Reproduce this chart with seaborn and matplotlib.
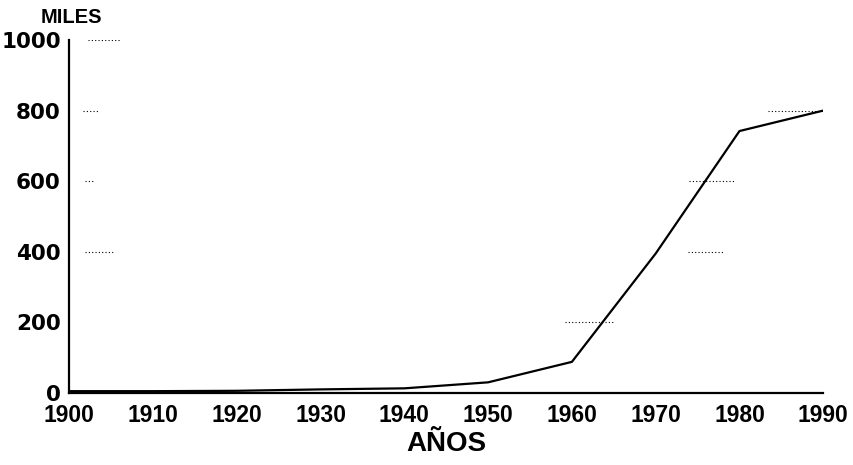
"""
Crecimiento en miles, 1900-1990 (recreated line chart).
"""

import matplotlib
matplotlib.use('Agg')
import matplotlib.pyplot as plt
import pandas as pd
import seaborn as sns

years = [1900, 1910, 1920, 1930, 1940, 1950, 1960, 1970, 1980, 1990]
values = [5, 5, 6, 10, 13, 30, 88, 395, 742, 800]

# short dotted guide marks seen in the original (level, from year, to year)
guide_levels = [1000, 800, 600, 400, 200, 400, 600, 800]
guide_start = [1902.3, 1901.6, 1901.9, 1901.9, 1959.2, 1973.9, 1974.0, 1983.4]
guide_end = [1906.1, 1903.6, 1902.8, 1905.5, 1965.0, 1978.0, 1979.5, 1990.0]

x_ticks = list(range(1900, 1991, 10))
y_ticks = [0, 200, 400, 600, 800, 1000]

df = pd.DataFrame({'year': years, 'miles': values})

sns.set_style('white')
plt.rcParams['font.family'] = ['Liberation Sans', 'DejaVu Sans']

fig = plt.figure(figsize=(8.54, 4.65), dpi=100)
ax = fig.add_axes([0.081, 0.155, 0.883, 0.759])

sns.lineplot(data=df, x='year', y='miles', ax=ax, color='black', linewidth=1.6)
ax.hlines(guide_levels, guide_start, guide_end, colors='black',
          linestyles=(0, (1, 2)), linewidth=0.8)

ax.set_xlim(1900, 1990)
ax.set_ylim(0, 1000)
ax.set_xticks(x_ticks)
ax.set_yticks(y_ticks)
ax.set_xticklabels([str(t) for t in x_ticks], fontsize=16.5, fontweight='bold',
                   color='black')
ax.set_yticklabels([str(t) for t in y_ticks], fontsize=15.5, fontweight='bold',
                   family='DejaVu Sans', color='black')
ax.tick_params(axis='both', direction='in', length=7, width=1.4, colors='black')
ax.tick_params(axis='x', pad=8)
ax.tick_params(axis='y', pad=6)

for side in ['top', 'right']:
    ax.spines[side].set_visible(False)
for side in ['left', 'bottom']:
    ax.spines[side].set_linewidth(1.6)
    ax.spines[side].set_color('black')

ax.set_xlabel('AÑOS', fontsize=20, fontweight='bold', labelpad=3, color='black')
ax.set_ylabel('')
fig.text(0.047, 0.943, 'MILES', fontsize=14.5, fontweight='bold', ha='left',
         va='bottom', color='black')

plt.savefig('out.png', dpi=100)
plt.close()
